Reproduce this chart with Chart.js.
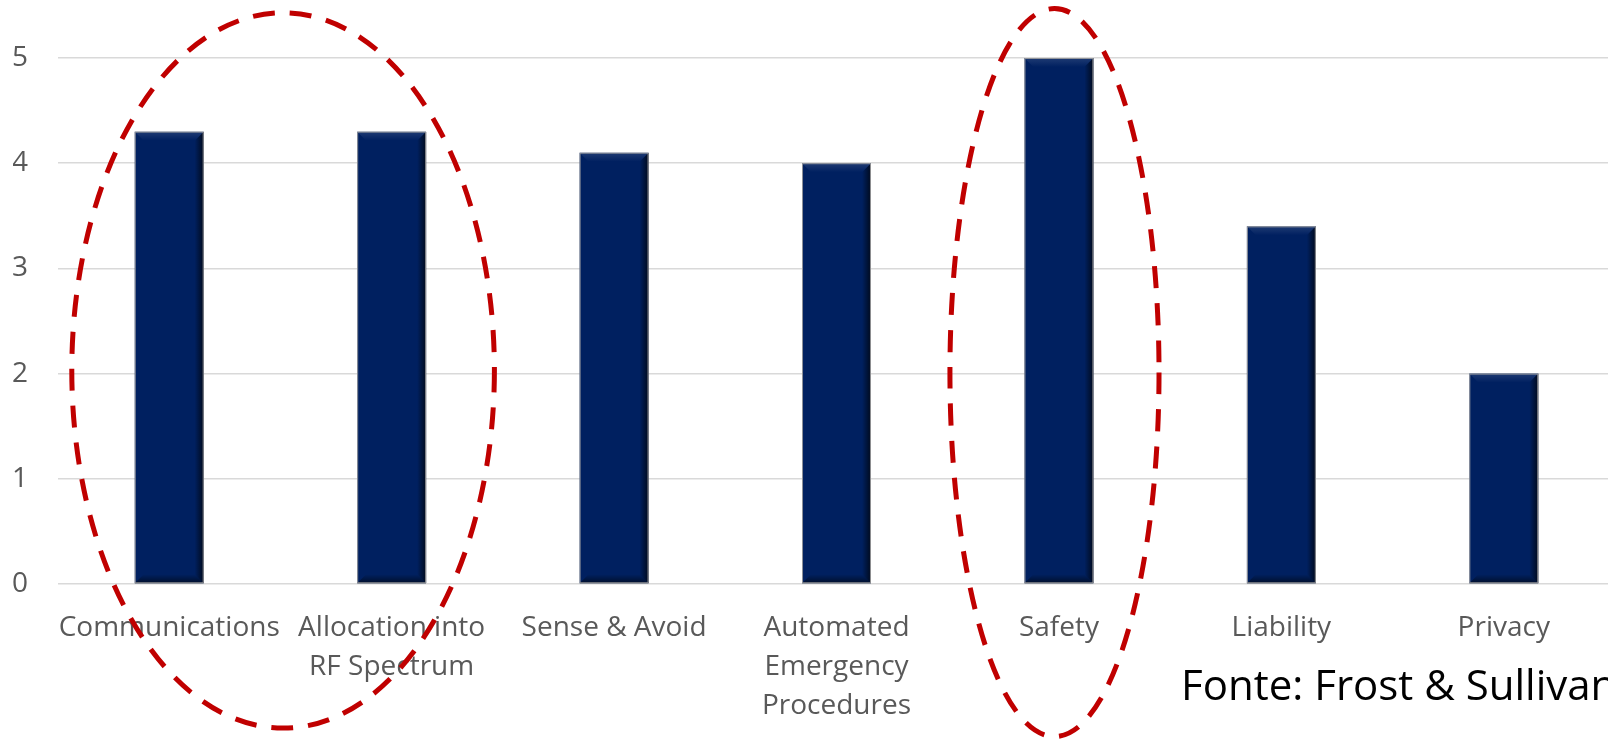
<!DOCTYPE html>
<html>
<head>
<meta charset="utf-8">
<script src="https://cdn.jsdelivr.net/npm/chart.js@4.4.1/dist/chart.umd.min.js"></script>
<style>
    html, body { margin: 0; padding: 0; background: #fff; overflow: hidden; }
    #wrap { position: relative; width: 1616px; height: 741px; }
    #source {
        position: absolute; left: 1181px; top: 663px;
        font-family: 'Open Sans', sans-serif; font-size: 42px; color: #000;
        white-space: nowrap; line-height: 1;
    }
</style>
</head>
<body>
<div id="wrap">
    <canvas id="issuesChart"></canvas>
    <div id="source">Fonte: Frost &amp; Sullivan</div>
</div>
<script>
// chart data
const categories = [
    'Communications',
    ['Allocation into', 'RF Spectrum'],
    'Sense & Avoid',
    ['Automated', 'Emergency', 'Procedures'],
    'Safety',
    'Liability',
    'Privacy'
];
const scores = [4.3, 4.3, 4.1, 4.0, 5.0, 3.4, 2.0];
const yTicks = [0, 1, 2, 3, 4, 5];

// red dashed highlight rings, given in category / value units
const rings = [
    { from: 0, to: 1, shift: 0.012, halfWidth: 0.95, midValue: 2.03, halfHeight: 3.40 },
    { from: 4, to: 4, shift: -0.02, halfWidth: 0.47, midValue: 2.01, halfHeight: 3.46 }
];

// gives the bars a bevelled look like the office chart
const bevelPlugin = {
    id: 'bevel',
    afterDatasetsDraw(chart) {
        const ctx = chart.ctx;
        chart.getDatasetMeta(0).data.forEach(bar => {
            const l = bar.x - bar.width / 2, r = bar.x + bar.width / 2;
            const t = bar.y, b = bar.base;
            const d = 9;
            ctx.save();
            let g = ctx.createLinearGradient(r - d, 0, r, 0);
            g.addColorStop(0, 'rgba(0,0,0,0)');
            g.addColorStop(1, 'rgba(0,0,0,0.7)');
            ctx.fillStyle = g;
            ctx.beginPath();
            ctx.moveTo(r - d, t + d); ctx.lineTo(r, t); ctx.lineTo(r, b); ctx.lineTo(r - d, b - d);
            ctx.fill();
            g = ctx.createLinearGradient(0, b - d, 0, b);
            g.addColorStop(0, 'rgba(0,0,0,0)');
            g.addColorStop(1, 'rgba(0,0,0,0.55)');
            ctx.fillStyle = g;
            ctx.beginPath();
            ctx.moveTo(l, b); ctx.lineTo(l + d, b - d); ctx.lineTo(r - d, b - d); ctx.lineTo(r, b);
            ctx.fill();
            g = ctx.createLinearGradient(0, t, 0, t + d);
            g.addColorStop(0, 'rgba(255,255,255,0.12)');
            g.addColorStop(1, 'rgba(255,255,255,0)');
            ctx.fillStyle = g;
            ctx.beginPath();
            ctx.moveTo(l, t); ctx.lineTo(r, t); ctx.lineTo(r - d, t + d); ctx.lineTo(l + d, t + d);
            ctx.fill();
            ctx.strokeStyle = 'rgba(160,160,160,0.9)';
            ctx.lineWidth = 1;
            ctx.strokeRect(l + 0.5, t + 0.5, r - l - 1, b - t - 1);
            ctx.restore();
        });
    }
};

const ringPlugin = {
    id: 'rings',
    afterDraw(chart) {
        const ctx = chart.ctx;
        const x = chart.scales.x, y = chart.scales.y;
        const step = x.getPixelForValue(1) - x.getPixelForValue(0);
        const unit = y.getPixelForValue(0) - y.getPixelForValue(1);
        ctx.save();
        ctx.strokeStyle = '#c00000';
        ctx.lineWidth = 5;
        ctx.setLineDash([22, 15]);
        rings.forEach(ring => {
            const cx = (x.getPixelForValue(ring.from) + x.getPixelForValue(ring.to)) / 2 + ring.shift * step;
            const cy = y.getPixelForValue(ring.midValue);
            ctx.beginPath();
            ctx.ellipse(cx, cy, ring.halfWidth * step, ring.halfHeight * unit, 0, 0, Math.PI * 2);
            ctx.stroke();
        });
        ctx.restore();
    }
};

document.addEventListener('DOMContentLoaded', () => {
    const ctx = document.getElementById('issuesChart').getContext('2d');
    new Chart(ctx, {
        type: 'bar',
        data: {
            labels: categories,
            datasets: [{
                data: scores,
                backgroundColor: '#002060',
                borderWidth: 0,
                categoryPercentage: 0.62,
                barPercentage: 0.5
            }]
        },
        options: {
            responsive: true,
            maintainAspectRatio: false,
            animation: false,
            layout: { padding: { left: 13, top: 58, right: 1, bottom: 0 } },
            plugins: {
                legend: { display: false },
                tooltip: { enabled: false }
            },
            scales: {
                x: {
                    grid: { display: false },
                    border: { display: false },
                    afterFit: scale => {
                        scale.paddingLeft = 0;
                        scale.paddingRight = 0;
                        scale.height = 157;
                    },
                    ticks: {
                        color: '#595959',
                        font: { family: 'Open Sans', size: 28, lineHeight: 1.4 },
                        padding: 16,
                        maxRotation: 0,
                        autoSkip: false
                    }
                },
                y: {
                    min: 0,
                    max: 5,
                    afterBuildTicks: axis => { axis.ticks = yTicks.map(v => ({ value: v })); },
                    afterFit: scale => { scale.width = 45; },
                    grid: { color: '#d9d9d9', lineWidth: 1.5, drawTicks: false },
                    border: { display: false },
                    ticks: {
                        color: '#595959',
                        font: { family: 'Open Sans', size: 28 },
                        padding: 30
                    }
                }
            }
        },
        plugins: [bevelPlugin, ringPlugin]
    });
});
</script>
</body>
</html>
